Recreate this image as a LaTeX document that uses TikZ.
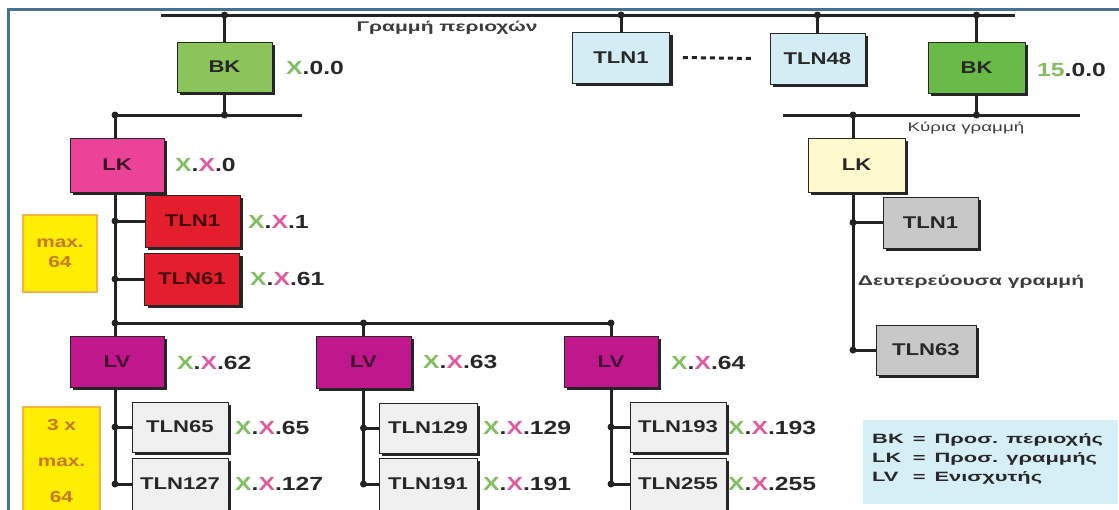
\documentclass[tikz,border=0pt]{standalone}
\usepackage{fontspec}
\setmainfont{Liberation Sans}[FakeStretch=1.3]
\newfontfamily\grk{Liberation Sans}[FakeStretch=1.5]
\newfontfamily\grkwide{Liberation Sans}[FakeStretch=1.62]
\usetikzlibrary{shadows}
\definecolor{framecol}{RGB}{70,115,145}
\definecolor{busblack}{RGB}{35,35,35}
\definecolor{bkgreen}{RGB}{140,196,92}
\definecolor{bkgreendk}{RGB}{105,186,70}
\definecolor{tlnblue}{RGB}{212,237,244}
\definecolor{lkpink}{RGB}{236,66,152}
\definecolor{tlnred}{RGB}{228,30,44}
\definecolor{lvmag}{RGB}{192,24,140}
\definecolor{lkyel}{RGB}{255,249,206}
\definecolor{tlngrey}{RGB}{200,200,200}
\definecolor{tlnlight}{RGB}{240,240,240}
\definecolor{maxyel}{RGB}{255,238,0}
\definecolor{maxborder}{RGB}{240,180,70}
\definecolor{maxtext}{RGB}{200,120,40}
\definecolor{legbg}{RGB}{214,238,246}
\definecolor{lgreen}{RGB}{128,190,96}
\definecolor{lpink}{RGB}{224,90,160}
\definecolor{numblack}{RGB}{40,40,40}
\definecolor{greytext}{RGB}{60,60,60}
\newcommand\XXaddr[1]{\textcolor{lgreen}{X}.\textcolor{lpink}{X}.#1}
\tikzset{
  dev/.style={draw=black!85, line width=0.8pt, minimum width=95pt, minimum height=51pt,
    inner sep=0pt, font=\fontsize{17}{18}\selectfont\bfseries, text=numblack,
    drop shadow={shadow xshift=3pt, shadow yshift=-3pt, fill=black!85, opacity=1}},
  bus/.style={line width=3pt, draw=busblack},
  jdot/.style={circle, fill=busblack, inner sep=0pt, minimum size=7pt},
  lbl/.style={anchor=west, inner sep=0pt, font=\fontsize{19}{20}\selectfont\bfseries, text=numblack},
  smalltxt/.style={inner sep=0pt, font=\grk\fontsize{14}{16}\selectfont\bfseries, text=greytext},
  maxbox/.style={draw=maxborder, line width=1.2pt, fill=maxyel, inner sep=0pt,
    font=\fontsize{16}{20}\selectfont\bfseries, text=maxtext, align=center},
  dotsline/.style={line width=3pt, draw=busblack, dash pattern=on 5pt off 4pt}
}
\begin{document}
\begin{tikzpicture}[x=1pt,y=-1pt]
\useasboundingbox (0,0) rectangle (1119,509);
\clip (0,0) rectangle (1119,509);
\fill[white] (0,0) rectangle (1119,509);
\draw[framecol, line width=3pt] (8,512) -- (8,9) -- (1122,9);

% ---------- top (area) line ----------
\coordinate (tbL) at (161,15);
\coordinate (tbR) at (1015,15);
\draw[bus] (tbL) -- (tbR);
\node[smalltxt] (areatxt) at (447,28) {Γραμμή περιοχών};

\node[dev, fill=bkgreen, minimum width=95pt, minimum height=50pt] (BK1) at (224.5,67) {BK};
\node[lbl] (aBK1) at (286,68) {\textcolor{lgreen}{X}.0.0};
\node[dev, fill=tlnblue, minimum width=97pt] (TLb1) at (621,57.5) {TLN1};
\node[dev, fill=tlnblue, minimum width=95pt] (TLb48) at (817.5,58.5) {TLN48};
\node[dev, fill=bkgreendk, minimum width=97pt] (BK2) at (976.5,67.5) {BK};
\node[lbl] (aBK2) at (1037,70) {\textcolor{lgreen}{15}.0.0};
\draw[dotsline] ([xshift=13pt]TLb1.east) -- ([xshift=-15pt]TLb48.west);

\foreach \n in {BK1,TLb1,TLb48,BK2}{
  \draw[bus] (\n.north |- tbL) -- (\n.north);
  \node[jdot] at (\n.north |- tbL) {};
}

% ---------- line under BK1 ----------
\coordinate (b2L) at (115,115);
\coordinate (b2R) at (302,115);
\draw[bus] (b2L) -- (b2R);
\draw[bus] (BK1.south) -- (BK1.south |- b2L);
\node[jdot] at (BK1.south |- b2L) {};
\node[jdot] at (b2L) {};

\node[dev, fill=lkpink, text=black!75!lkpink, minimum width=94pt, minimum height=54pt] (LKp) at (117,165) {LK};
\node[lbl] (aLKp) at (175,165) {\XXaddr{0}};
\node[dev, fill=tlnred, text=black!70!tlnred, minimum height=52pt] (TLr1) at (192.5,221) {TLN1};
\node[lbl] (aTLr1) at (248,222) {\XXaddr{1}};
\node[dev, fill=tlnred, text=black!70!tlnred, minimum height=52pt] (TLr61) at (192,279) {TLN61};
\node[lbl] (aTLr61) at (250,279) {\XXaddr{61}};
\node[maxbox, minimum width=74pt, minimum height=77pt] (max1) at (60,253.5) {max.\\64};

\draw[bus] (b2L) -- (b2L |- LKp.north);

% ---------- LV bus ----------
\coordinate (lvb) at (115,323);
\node[dev, fill=lvmag, text=black!65!lvmag, minimum width=94pt] (LV1) at (117,361.5) {LV};
\node[dev, fill=lvmag, text=black!65!lvmag, minimum width=95pt, minimum height=52pt] (LV2) at (363.5,362) {LV};
\node[dev, fill=lvmag, text=black!65!lvmag, minimum width=94pt] (LV3) at (611,361.5) {LV};
\node[lbl] (aLV1) at (177,363) {\XXaddr{62}};
\node[lbl] (aLV2) at (423,362) {\XXaddr{63}};
\node[lbl] (aLV3) at (671,363) {\XXaddr{64}};

\draw[bus] (b2L |- LKp.south) -- (b2L |- LV1.north);
\foreach \n in {TLr1,TLr61}{
  \draw[bus] (\n.west -| b2L) -- (\n.west);
  \node[jdot] at (\n.west -| b2L) {};
}
\draw[bus] (lvb) -- (LV3.north |- lvb) -- (LV3.north);
\draw[bus] (LV2.north |- lvb) -- (LV2.north);
\node[jdot] at (lvb) {};
\node[jdot] at (LV2.north |- lvb) {};
\node[jdot] at (LV3.north |- lvb) {};

% ---------- TLN under LVs ----------
\node[dev, fill=tlnlight, minimum width=96pt, minimum height=50pt] (T65) at (180,427) {TLN65};
\node[dev, fill=tlnlight, minimum width=96pt, minimum height=52pt] (T127) at (180,484) {TLN127};
\node[dev, fill=tlnlight, minimum width=98pt, minimum height=50pt] (T129) at (428,428) {TLN129};
\node[dev, fill=tlnlight, minimum width=98pt, minimum height=52pt] (T191) at (428,484) {TLN191};
\node[dev, fill=tlnlight, minimum width=96pt, minimum height=50pt] (T193) at (678,427) {TLN193};
\node[dev, fill=tlnlight, minimum width=96pt, minimum height=52pt] (T255) at (678,484) {TLN255};
\node[lbl] (a65) at (235,428) {\XXaddr{65}};
\node[lbl] (a127) at (235,484) {\XXaddr{127}};
\node[lbl] (a129) at (483,428) {\XXaddr{129}};
\node[lbl] (a191) at (483,484) {\XXaddr{191}};
\node[lbl] (a193) at (728,428) {\XXaddr{193}};
\node[lbl] (a255) at (728,484) {\XXaddr{255}};
\node[maxbox, minimum width=77pt, minimum height=108pt, font=\fontsize{16}{36}\selectfont\bfseries] (max3) at (61.5,461) {3 x\\max.\\64};

\draw[bus] (b2L |- LV1.south) -- (b2L |- T127.west);
\draw[bus] (LV2.south) -- (LV2.south |- T191.west);
\draw[bus] (LV3.south) -- (LV3.south |- T255.west);
\foreach \t in {T65,T127}{
  \draw[bus] (\t.west -| b2L) -- (\t.west); \node[jdot] at (\t.west -| b2L) {};}
\foreach \t in {T129,T191}{
  \draw[bus] (\t.west -| LV2.south) -- (\t.west); \node[jdot] at (\t.west -| LV2.south) {};}
\foreach \t in {T193,T255}{
  \draw[bus] (\t.west -| LV3.south) -- (\t.west); \node[jdot] at (\t.west -| LV3.south) {};}

% ---------- right branch ----------
\coordinate (mlL) at (783,115);
\coordinate (mlR) at (1080,115);
\coordinate (rs) at (853,115);
\draw[bus] (mlL) -- (mlR);
\draw[bus] (BK2.south) -- (BK2.south |- mlL);
\node[jdot] at (BK2.south |- mlL) {};
\node[jdot] at (rs) {};
\node[smalltxt, font=\grk\fontsize{12.5}{14}\selectfont] (maintxt) at (966,128) {Κύρια γραμμή};

\node[dev, fill=lkyel, minimum width=97pt, minimum height=54pt] (LKy) at (856.5,165) {LK};
\node[dev, fill=tlngrey] (TLg1) at (930.5,222.5) {TLN1};
\node[dev, fill=tlngrey, minimum width=100pt, minimum height=50pt] (TLg63) at (926,350) {TLN63};
\node[smalltxt] (sectxt) at (971,282) {Δευτερεύουσα γραμμή};

\draw[bus] (rs) -- (rs |- LKy.north);
\draw[bus] (rs |- LKy.south) -- (rs |- TLg63.west);
\foreach \t in {TLg1,TLg63}{
  \draw[bus] (\t.west -| rs) -- (\t.west); \node[jdot] at (\t.west -| rs) {};}

% ---------- legend ----------
\node[fill=legbg, anchor=north west, minimum width=255pt, minimum height=84pt, inner sep=0pt] (legbox) at (863,420) {};
\node[anchor=north west, inner sep=0pt, text=numblack,
  font=\grkwide\fontsize{13.5}{19}\selectfont\bfseries] (legtxt) at (872,430)
  {\begin{tabular}{@{}l@{\hspace{9pt}}l@{\hspace{9pt}}l@{}}
   BK & = & Προσ. περιοχής\\
   LK & = & Προσ. γραμμής\\
   LV & = & Ενισχυτής
   \end{tabular}};
\end{tikzpicture}
\end{document}
